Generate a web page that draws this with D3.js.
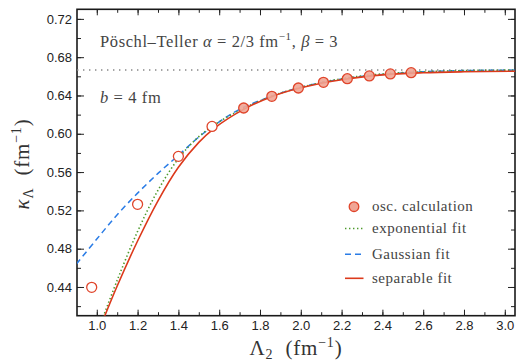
<!DOCTYPE html>
<html>
<head>
<meta charset="utf-8">
<script src="https://cdn.jsdelivr.net/npm/d3@7"></script>
<style>
  body { margin: 0; background: #fff; }
  svg text { font-family: "Liberation Serif", serif; }
  .tick text { font-family: "Liberation Sans", Arial, sans-serif; font-size: 13px; fill: #222; }
</style>
</head>
<body>
<div id="chart"></div>
<script>
// osc. calculation points (first four drawn open)
const oscX = [0.975, 1.2, 1.4, 1.565, 1.72, 1.858, 1.988, 2.111, 2.228, 2.336, 2.439, 2.541];
const oscY = [0.4396, 0.5263, 0.5764, 0.6077, 0.6269, 0.6391, 0.6478, 0.6537, 0.6575, 0.6604, 0.6625, 0.6638];
const nOpen = 4;

// separable fit
const sepX = [1.03, 1.1, 1.2, 1.3, 1.4, 1.5, 1.574, 1.72, 1.86, 2.0, 2.2, 2.4, 2.6, 2.8, 3.05];
const sepY = [0.405, 0.441, 0.488, 0.530, 0.565, 0.591, 0.6055, 0.6255, 0.639, 0.648, 0.6565, 0.6615, 0.6637, 0.6647, 0.6653];

// exponential fit
const expX = [1.025, 1.1, 1.2, 1.3, 1.4, 1.5, 1.6, 1.72, 1.86, 2.0, 2.2, 2.4, 2.6, 2.8, 3.05];
const expY = [0.405, 0.447, 0.498, 0.541, 0.574, 0.597, 0.6125, 0.6265, 0.6395, 0.6485, 0.6575, 0.6625, 0.6648, 0.666, 0.6665];

// Gaussian fit
const gauX = [0.9, 1.0, 1.1, 1.2, 1.3, 1.4, 1.5, 1.6, 1.7, 1.86, 2.0, 2.2, 2.4, 2.6, 2.8, 3.05];
const gauY = [0.464, 0.490, 0.5155, 0.538, 0.5586, 0.5775, 0.5965, 0.6125, 0.6255, 0.6395, 0.6485, 0.6572, 0.662, 0.6648, 0.666, 0.6665];

const kappaInf = 2 / 3;

const xTicks = [1.0, 1.2, 1.4, 1.6, 1.8, 2.0, 2.2, 2.4, 2.6, 2.8, 3.0];
const xMinor = d3.range(10, 31).map(d => d / 10);
const yTicks = [0.44, 0.48, 0.52, 0.56, 0.60, 0.64, 0.68, 0.72];
const yMinor = d3.range(21, 37).map(d => d / 50);

const legendLabels = ['osc. calculation', 'exponential fit', 'Gaussian fit', 'separable fit'];

const W = 517, H = 362;
const margin = { left: 77, top: 9.3, right: 2, bottom: 46.3 };
const width = W - margin.left - margin.right;
const height = H - margin.top - margin.bottom;

const colRed = '#dc3a1c', colBlue = '#2a7ce6', colGreen = '#4e9a2c';
const colText = '#444';

const svg = d3.select('#chart').append('svg')
    .attr('width', W)
    .attr('height', H);

const x = d3.scaleLinear().domain([0.903, 3.05]).range([0, width]);
const y = d3.scaleLinear().domain([0.41, 0.73]).range([height, 0]);

const chart = svg.append('g').attr('transform', `translate(${margin.left}, ${margin.top})`);

chart.append('clipPath').attr('id', 'clip')
    .append('rect').attr('width', width).attr('height', height);

// axes, ticks pointing inward
function addAxis(axis, transform) {
    const g = chart.append('g').attr('transform', transform).call(axis);
    g.select('.domain').remove();
    g.selectAll('line').attr('stroke', '#222').attr('stroke-width', 1);
    return g;
}
addAxis(d3.axisBottom(x).tickValues(xTicks).tickSize(-6).tickPadding(5).tickFormat(d3.format('.1f')), `translate(0, ${height})`);
addAxis(d3.axisBottom(x).tickValues(xMinor).tickSize(-3.5).tickFormat(''), `translate(0, ${height})`);
addAxis(d3.axisTop(x).tickValues(xTicks).tickSize(-6).tickFormat(''), 'translate(0, 0)');
addAxis(d3.axisTop(x).tickValues(xMinor).tickSize(-3.5).tickFormat(''), 'translate(0, 0)');
addAxis(d3.axisLeft(y).tickValues(yTicks).tickSize(-7).tickPadding(5).tickFormat(d3.format('.2f')), 'translate(0, 0)');
addAxis(d3.axisLeft(y).tickValues(yMinor).tickSize(-4).tickFormat(''), 'translate(0, 0)');
addAxis(d3.axisRight(y).tickValues(yTicks).tickSize(-7).tickFormat(''), `translate(${width}, 0)`);
addAxis(d3.axisRight(y).tickValues(yMinor).tickSize(-4).tickFormat(''), `translate(${width}, 0)`);

chart.append('rect')
    .attr('width', width).attr('height', height)
    .attr('fill', 'none').attr('stroke', '#1a1a1a').attr('stroke-width', 1.6);

// asymptote
chart.append('line')
    .attr('x1', 0).attr('x2', width)
    .attr('y1', y(kappaInf)).attr('y2', y(kappaInf))
    .attr('stroke', '#888').attr('stroke-width', 1.4)
    .attr('stroke-dasharray', '1.4,4.6');

const line = d3.line()
    .x(d => x(d[0]))
    .y(d => y(d[1]))
    .curve(d3.curveCatmullRom.alpha(0.5));

const plot = chart.append('g').attr('clip-path', 'url(#clip)');

plot.append('path')
    .datum(d3.zip(gauX, gauY))
    .attr('fill', 'none').attr('stroke', colBlue).attr('stroke-width', 1.5)
    .attr('stroke-dasharray', '6,4')
    .attr('d', line);

plot.append('path')
    .datum(d3.zip(expX, expY))
    .attr('fill', 'none').attr('stroke', colGreen).attr('stroke-width', 1.6)
    .attr('stroke-dasharray', '1.4,2.4')
    .attr('d', line);

plot.append('path')
    .datum(d3.zip(sepX, sepY))
    .attr('fill', 'none').attr('stroke', colRed).attr('stroke-width', 1.6)
    .attr('d', line);

plot.selectAll('.osc')
    .data(d3.zip(oscX, oscY))
    .join('circle')
    .attr('class', 'osc')
    .attr('cx', d => x(d[0]))
    .attr('cy', d => y(d[1]))
    .attr('r', 5)
    .attr('fill', (d, i) => i < nOpen ? '#fff' : '#f0a595')
    .attr('fill-opacity', (d, i) => i < nOpen ? 1 : 0.9)
    .attr('stroke', '#e0452b')
    .attr('stroke-width', 1.3);

// annotations
const title = svg.append('text')
    .attr('x', 100).attr('y', 46.5)
    .attr('fill', colText).attr('font-size', 16.5)
    .attr('letter-spacing', 0.6);
title.append('tspan').text('Pöschl–Teller ');
title.append('tspan').attr('font-style', 'italic').text('α');
title.append('tspan').text(' = 2/3 fm');
title.append('tspan').attr('font-size', 11).attr('dy', -7).text('−1');
title.append('tspan').attr('dy', 7).text(', ');
title.append('tspan').attr('font-style', 'italic').text('β');
title.append('tspan').text(' = 3');

const bText = svg.append('text')
    .attr('x', 100).attr('y', 103)
    .attr('fill', colText).attr('font-size', 16.5)
    .attr('letter-spacing', 0.6);
bText.append('tspan').attr('font-style', 'italic').text('b');
bText.append('tspan').text(' = 4 fm');

// axis titles
const xLabel = svg.append('text')
    .attr('x', 296).attr('y', 355)
    .attr('text-anchor', 'middle')
    .attr('fill', '#333').attr('font-size', 21)
    .attr('letter-spacing', 0.8);
xLabel.append('tspan').text('Λ');
xLabel.append('tspan').attr('font-size', 14).attr('dy', 4).text('2');
xLabel.append('tspan').attr('dy', -4).attr('dx', 6).text(' (fm');
xLabel.append('tspan').attr('font-size', 14).attr('dy', -8).text('−1');
xLabel.append('tspan').attr('dy', 8).text(')');

const yLabel = svg.append('text')
    .attr('transform', 'translate(29, 164) rotate(-90)')
    .attr('text-anchor', 'middle')
    .attr('fill', '#333').attr('font-size', 21)
    .attr('letter-spacing', 0.8);
yLabel.append('tspan').attr('font-style', 'italic').text('κ');
yLabel.append('tspan').attr('font-size', 14).attr('dy', 4).text('Λ');
yLabel.append('tspan').attr('dy', -4).attr('dx', 6).text(' (fm');
yLabel.append('tspan').attr('font-size', 14).attr('dy', -8).text('−1');
yLabel.append('tspan').attr('dy', 8).text(')');

// legend
const legY = [206.7, 228.5, 254.3, 278.3];
const leg = svg.append('g');
leg.append('circle')
    .attr('cx', 354).attr('cy', legY[0]).attr('r', 4.8)
    .attr('fill', '#f0a595').attr('stroke', '#e0452b').attr('stroke-width', 1.3);
const legStyles = [null, { c: colGreen, dash: '1.4,2.6' }, { c: colBlue, dash: '6,4' }, { c: colRed, dash: null }];
legStyles.forEach((s, i) => {
    if (!s) return;
    leg.append('line')
        .attr('x1', 345).attr('x2', 363.5)
        .attr('y1', legY[i]).attr('y2', legY[i])
        .attr('stroke', s.c).attr('stroke-width', 1.6)
        .attr('stroke-dasharray', s.dash);
});
leg.selectAll('text')
    .data(legendLabels)
    .join('text')
    .attr('x', 372)
    .attr('y', (d, i) => legY[i] + 4.5)
    .attr('fill', colText)
    .attr('font-size', 15)
    .attr('letter-spacing', 0.5)
    .text(d => d);
</script>
</body>
</html>
